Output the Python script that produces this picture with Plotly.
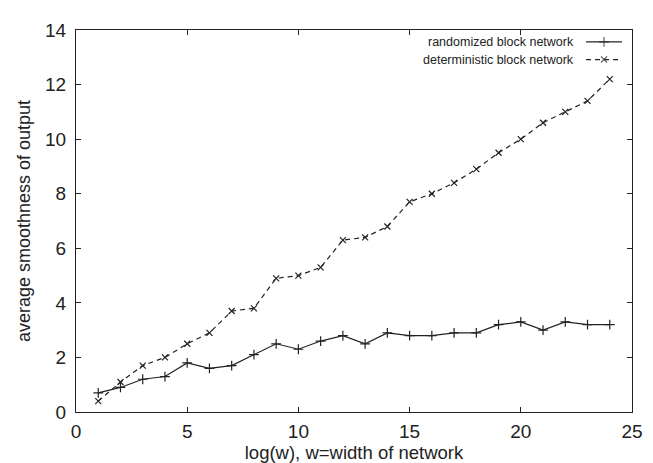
import plotly.graph_objects as go

log_w = list(range(1, 25))
randomized = [0.7, 0.9, 1.2, 1.3, 1.8, 1.6, 1.7, 2.1, 2.5, 2.3, 2.6, 2.8,
              2.5, 2.9, 2.8, 2.8, 2.9, 2.9, 3.2, 3.3, 3.0, 3.3, 3.2, 3.2]
deterministic = [0.4, 1.1, 1.7, 2.0, 2.5, 2.9, 3.7, 3.8, 4.9, 5.0, 5.3, 6.3,
                 6.4, 6.8, 7.7, 8.0, 8.4, 8.9, 9.5, 10.0, 10.6, 11.0, 11.4, 12.2]
series_names = ["randomized block network", "deterministic block network"]
x_ticks = [0, 5, 10, 15, 20, 25]
y_ticks = [0, 2, 4, 6, 8, 10, 12, 14]

FONT = "Liberation Sans, Arial, Helvetica, sans-serif"
INK = "#222222"

fig = go.Figure()
fig.add_trace(go.Scatter(
    x=log_w, y=randomized, mode="lines+markers", name=series_names[0],
    line=dict(color=INK, width=1.2),
    marker=dict(symbol="cross-thin", size=7, line=dict(color=INK, width=1.2)),
    showlegend=False))
fig.add_trace(go.Scatter(
    x=log_w, y=deterministic, mode="lines+markers", name=series_names[1],
    line=dict(color=INK, width=1.2, dash="5px,4px"),
    marker=dict(symbol="x-thin", size=6, line=dict(color=INK, width=1.2)),
    showlegend=False))

# legend samples (key on the right of the text, as in the reference)
leg_y = [0.969, 0.9227]
leg_x0, leg_x1 = 0.9174, 0.982
styles = [("solid", "cross-thin", 7), ("5px,4px", "x-thin", 6)]
for name, ly, (dash, sym, sz) in zip(series_names, leg_y, styles):
    fig.add_trace(go.Scatter(
        x=[leg_x0, (leg_x0 + leg_x1) / 2, leg_x1], y=[ly, ly, ly],
        xaxis="x2", yaxis="y2", mode="lines+markers",
        line=dict(color=INK, width=1.2, dash=dash),
        marker=dict(symbol=sym, size=[0, sz, 0], line=dict(color=INK, width=1.2)),
        showlegend=False, hoverinfo="skip"))
    fig.add_annotation(x=0.9, y=ly, xref="paper", yref="paper", text=name,
                       showarrow=False, xanchor="right", yanchor="middle",
                       font=dict(family=FONT, size=12.5, color=INK))

axis_common = dict(showgrid=False, zeroline=False, showline=True, linecolor=INK,
                   linewidth=1.2, mirror="ticks", ticks="inside", ticklen=5,
                   tickcolor=INK, tickwidth=1,
                   tickfont=dict(family=FONT, size=19, color=INK))

fig.update_layout(
    width=653, height=463,
    margin=dict(l=68, r=29, t=19, b=55),
    paper_bgcolor="white", plot_bgcolor="white",
    xaxis=dict(range=[0, 25], tickvals=x_ticks, ticklabelstandoff=2,
               title=dict(text="log(w), w=width of network", standoff=4,
                          font=dict(family=FONT, size=18.5, color=INK)),
               **axis_common),
    yaxis=dict(range=[0, 14], tickvals=y_ticks, ticklabelstandoff=5,
               title=dict(text="average smoothness of output", standoff=9,
                          font=dict(family=FONT, size=18, color=INK)),
               **axis_common),
    xaxis2=dict(range=[0, 1], overlaying="x", visible=False),
    yaxis2=dict(range=[0, 1], overlaying="y", visible=False),
)

fig.write_html("out.html")
